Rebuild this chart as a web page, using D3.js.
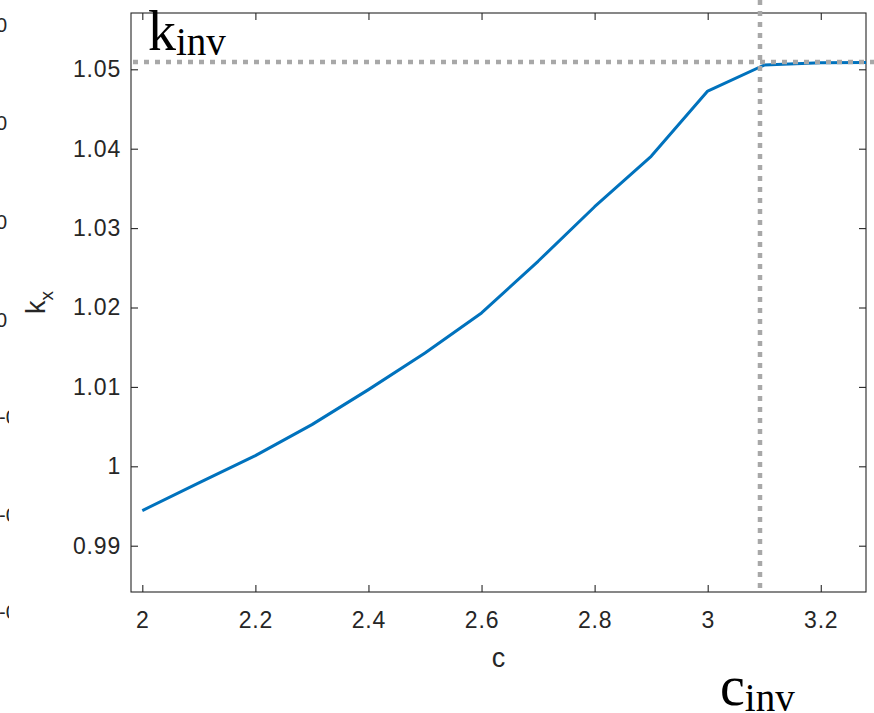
<!DOCTYPE html>
<html>
<head>
<meta charset="utf-8">
<script src="https://cdn.jsdelivr.net/npm/d3@7"></script>
<style>
  html, body { margin: 0; padding: 0; background: #fff; }
  svg { display: block; }
  text { font-family: "Liberation Sans", Arial, Helvetica, sans-serif; }
  .tex { font-family: "Liberation Serif", "DejaVu Serif", serif; }
</style>
</head>
<body>
<svg id="chart" width="874" height="713"></svg>
<script>
// wave speed c and resulting wavenumber k_x
const cValues = [2.0, 2.1, 2.2, 2.3, 2.4, 2.5, 2.6, 2.7, 2.8, 2.9, 3.0, 3.1, 3.2, 3.3];
const kxValues = [0.99443, 0.99791, 1.00135, 1.00525, 1.00966, 1.01428, 1.01932,
                  1.02582, 1.03269, 1.03904, 1.04726, 1.05053, 1.05083, 1.05088];
// invariant threshold marked by the dotted guides
const cInv = 3.0925;
const kInv = 1.05092;
const xTicks = [2, 2.2, 2.4, 2.6, 2.8, 3, 3.2];
const yTicks = [0.99, 1, 1.01, 1.02, 1.03, 1.04, 1.05];
const xDomain = [1.98, 3.28];
const yDomain = [0.98417, 1.05709];
// fragments of a neighbouring panel's labels, cut by the left edge
const sideRightY = [25, 123, 222, 320];
const sideLeftY = [417, 515, 612];

const svg = d3.select("#chart");
const L = 131, R = 866, T = 13, B = 592;
const axisColor = "#262626";

const x = d3.scaleLinear().domain(xDomain).range([L, R]);
const y = d3.scaleLinear().domain(yDomain).range([B, T]);

// axes box
svg.append("rect")
  .attr("x", L).attr("y", T).attr("width", R - L).attr("height", B - T)
  .attr("fill", "none").attr("stroke", axisColor).attr("stroke-width", 1.1);

const tickLen = 7;
const fmt = d => String(+d.toFixed(2));

// bottom/top axes with inward ticks
const xAxisB = d3.axisBottom(x).tickValues(xTicks).tickSizeInner(-tickLen).tickSizeOuter(0)
  .tickPadding(20).tickFormat(fmt);
const gB = svg.append("g").attr("transform", `translate(0,${B})`).call(xAxisB);
const xAxisT = d3.axisTop(x).tickValues(xTicks).tickSizeInner(-tickLen).tickSizeOuter(0).tickFormat("");
const gT = svg.append("g").attr("transform", `translate(0,${T})`).call(xAxisT);

const yAxisL = d3.axisLeft(y).tickValues(yTicks).tickSizeInner(-tickLen).tickSizeOuter(0)
  .tickPadding(10).tickFormat(fmt);
const gL = svg.append("g").attr("transform", `translate(${L},0)`).call(yAxisL);
const yAxisR = d3.axisRight(y).tickValues(yTicks).tickSizeInner(-tickLen).tickSizeOuter(0).tickFormat("");
const gR = svg.append("g").attr("transform", `translate(${R},0)`).call(yAxisR);

[gB, gT, gL, gR].forEach(g => {
  g.select(".domain").remove();
  g.selectAll(".tick line").attr("stroke", axisColor).attr("stroke-width", 1.1);
  g.selectAll(".tick text").attr("fill", axisColor).style("font-size", "23px")
    .style("letter-spacing", "0.8px")
    .style("font-family", "'Liberation Sans', Arial, sans-serif");
});

// clip for the data line
svg.append("clipPath").attr("id", "plotClip")
  .append("rect").attr("x", L).attr("y", T).attr("width", R - L).attr("height", B - T);

const line = d3.line().x((d, i) => x(cValues[i])).y(d => y(d));
svg.append("path")
  .datum(kxValues)
  .attr("clip-path", "url(#plotClip)")
  .attr("d", line)
  .attr("fill", "none")
  .attr("stroke", "#0072BD")
  .attr("stroke-width", 3)
  .attr("stroke-linejoin", "round");

// dotted guides at the invariant point
const guide = { stroke: "#a8a8a8", width: 4.5, dash: "5,6" };
svg.append("line")
  .attr("x1", L + 2).attr("x2", 874).attr("y1", y(kInv)).attr("y2", y(kInv))
  .attr("stroke", guide.stroke).attr("stroke-width", guide.width).attr("stroke-dasharray", guide.dash);
svg.append("line")
  .attr("x1", x(cInv)).attr("x2", x(cInv)).attr("y1", 0).attr("y2", B - 2)
  .attr("stroke", guide.stroke).attr("stroke-width", guide.width).attr("stroke-dasharray", guide.dash);

// axis labels
svg.append("text")
  .attr("x", (L + R) / 2).attr("y", 667)
  .attr("text-anchor", "middle").attr("fill", axisColor)
  .style("font-size", "27px").text("c");

const yl = svg.append("text")
  .attr("transform", `translate(45,${(T + B) / 2}) rotate(-90)`)
  .attr("text-anchor", "middle").attr("fill", axisColor)
  .style("font-size", "27px");
yl.append("tspan").text("k");
yl.append("tspan").attr("dy", 8).style("font-size", "19px").text("x");

// threshold annotations
const kLab = svg.append("text").attr("class", "tex")
  .attr("x", 148).attr("y", 50).attr("fill", "#000").style("font-size", "56px");
kLab.append("tspan").text("k");
kLab.append("tspan").attr("dy", 5).style("font-size", "39px").text("inv");

const cLab = svg.append("text").attr("class", "tex")
  .attr("x", 720).attr("y", 705).attr("fill", "#000").style("font-size", "56px");
cLab.append("tspan").text("c");
cLab.append("tspan").attr("dy", 6).style("font-size", "39px").text("inv");

// edge fragments
const side = svg.append("g").attr("fill", axisColor).style("font-size", "20px");
side.selectAll("text.r").data(sideRightY).join("text")
  .attr("class", "r").attr("x", 7).attr("y", d => d + 7)
  .attr("text-anchor", "end").text("0");
svg.append("clipPath").attr("id", "sideClip")
  .append("rect").attr("x", 0).attr("y", 0).attr("width", 9).attr("height", 713);
side.selectAll("text.l").data(sideLeftY).join("text")
  .attr("class", "l").attr("x", -1).attr("y", d => d + 7)
  .attr("clip-path", "url(#sideClip)").text("-0");
</script>
</body>
</html>
